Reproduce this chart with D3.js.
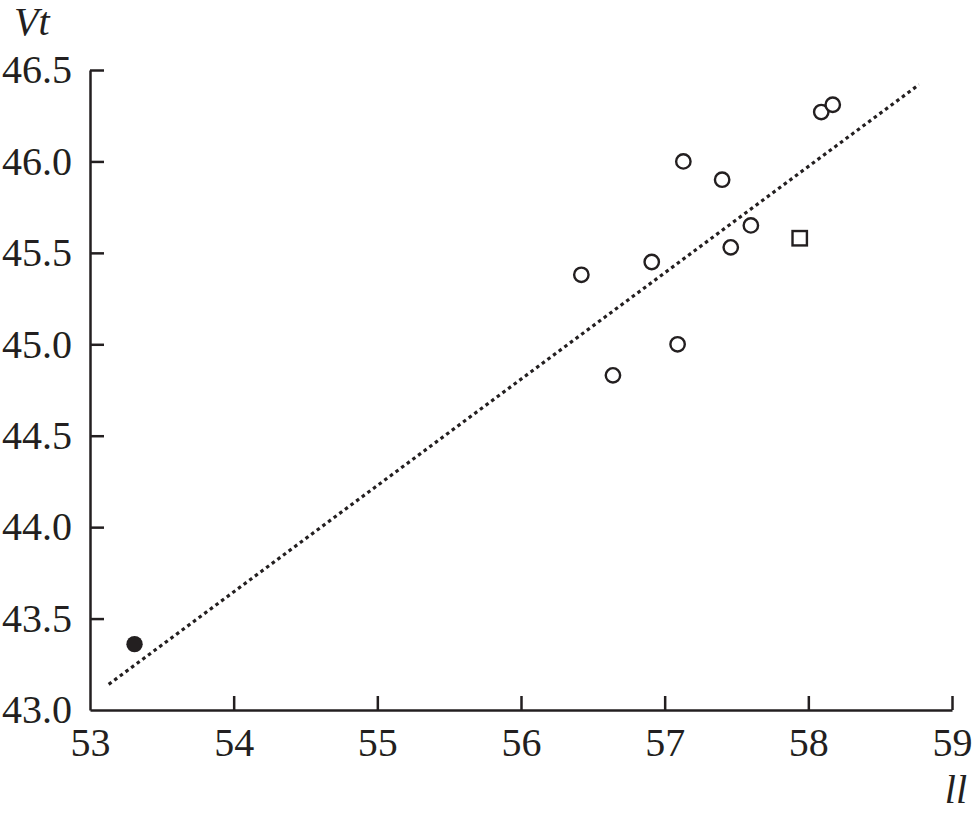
<!DOCTYPE html>
<html>
<head>
<meta charset="utf-8">
<script src="https://cdn.jsdelivr.net/npm/d3@7"></script>
<style>
  body { margin: 0; background: #fff; }
  svg { display: block; }
  svg text { font-family: "Liberation Serif", "Times New Roman", serif; }
</style>
</head>
<body>
<script>
const width = 972;
const height = 816;
const margin = { top: 70, right: 20, bottom: 106, left: 90 };
const ink = "#231f20";
const fontFamily = `"Liberation Serif", "Times New Roman", serif`;

// open circles
const openX = [56.42, 56.91, 57.13, 57.40, 57.60, 57.46, 57.09, 56.64, 58.09, 58.17];
const openY = [45.38, 45.45, 46.00, 45.90, 45.65, 45.53, 45.00, 44.83, 46.27, 46.31];

// filled circle
const filledX = [53.31];
const filledY = [43.36];

// square
const squareX = [57.94];
const squareY = [45.58];

// dotted fit line endpoints
const fitX = [53.13, 58.77];
const fitY = [43.14, 46.42];

const xTicks = [53, 54, 55, 56, 57, 58, 59];
const yTicks = [43.0, 43.5, 44.0, 44.5, 45.0, 45.5, 46.0, 46.5];

const x = d3.scaleLinear().domain([53, 59]).range([margin.left, 952]);
const y = d3.scaleLinear().domain([43, 46.5]).range([710, margin.top]);

const svg = d3
  .select("body")
  .append("svg")
  .attr("width", width)
  .attr("height", height);

const xAxis = svg
  .append("g")
  .attr("transform", `translate(0, ${y(43)})`)
  .call(
    d3.axisBottom(x)
      .tickValues(xTicks)
      .tickFormat(d3.format("d"))
      .tickSizeInner(-14)
      .tickSizeOuter(0)
      .tickPadding(18),
  );

const yAxis = svg
  .append("g")
  .attr("transform", `translate(${x(53)}, 0)`)
  .call(
    d3.axisLeft(y)
      .tickValues(yTicks)
      .tickFormat(d3.format(".1f"))
      .tickSizeInner(-14)
      .tickSizeOuter(0)
      .tickPadding(18),
  );

[xAxis, yAxis].forEach((g) => {
  g.attr("font-family", null).attr("font-size", null);
  g.select(".domain").attr("stroke", ink).attr("stroke-width", 2.5);
  g.selectAll(".tick line").attr("stroke", ink).attr("stroke-width", 2.5);
  g.selectAll(".tick text")
    .attr("fill", ink)
    .style("font-size", "40px")
    .style("font-family", fontFamily);
});
// skip the tick marks that sit on the other axis
xAxis.selectAll(".tick").filter((d) => d === 53).select("line").remove();
yAxis.selectAll(".tick").filter((d) => d === 43).select("line").remove();

// fit line
svg
  .append("line")
  .attr("x1", x(fitX[0]))
  .attr("y1", y(fitY[0]))
  .attr("x2", x(fitX[1]))
  .attr("y2", y(fitY[1]))
  .attr("stroke", ink)
  .attr("stroke-width", 3.2)
  .attr("stroke-dasharray", "3.5,3.5");

const points = svg.append("g");

points
  .selectAll(".open")
  .data(d3.zip(openX, openY))
  .enter()
  .append("circle")
  .attr("class", "open")
  .attr("cx", (d) => x(d[0]))
  .attr("cy", (d) => y(d[1]))
  .attr("r", 7.2)
  .attr("fill", "#fff")
  .attr("stroke", ink)
  .attr("stroke-width", 2.4);

points
  .selectAll(".filled")
  .data(d3.zip(filledX, filledY))
  .enter()
  .append("circle")
  .attr("class", "filled")
  .attr("cx", (d) => x(d[0]))
  .attr("cy", (d) => y(d[1]))
  .attr("r", 8.2)
  .attr("fill", ink);

points
  .selectAll(".square")
  .data(d3.zip(squareX, squareY))
  .enter()
  .append("rect")
  .attr("class", "square")
  .attr("x", (d) => x(d[0]) - 7.2)
  .attr("y", (d) => y(d[1]) - 7.2)
  .attr("width", 14.4)
  .attr("height", 14.4)
  .attr("fill", "#fff")
  .attr("stroke", ink)
  .attr("stroke-width", 2.4);

// axis titles
svg
  .append("text")
  .attr("x", 14)
  .attr("y", 35)
  .style("font-size", "40px")
  .style("font-style", "italic")
  .attr("fill", ink)
  .text("Vt");

svg
  .append("text")
  .attr("x", 967)
  .attr("y", 803)
  .attr("text-anchor", "end")
  .style("font-size", "40px")
  .style("font-style", "italic")
  .attr("fill", ink)
  .text("ll");
</script>
</body>
</html>
